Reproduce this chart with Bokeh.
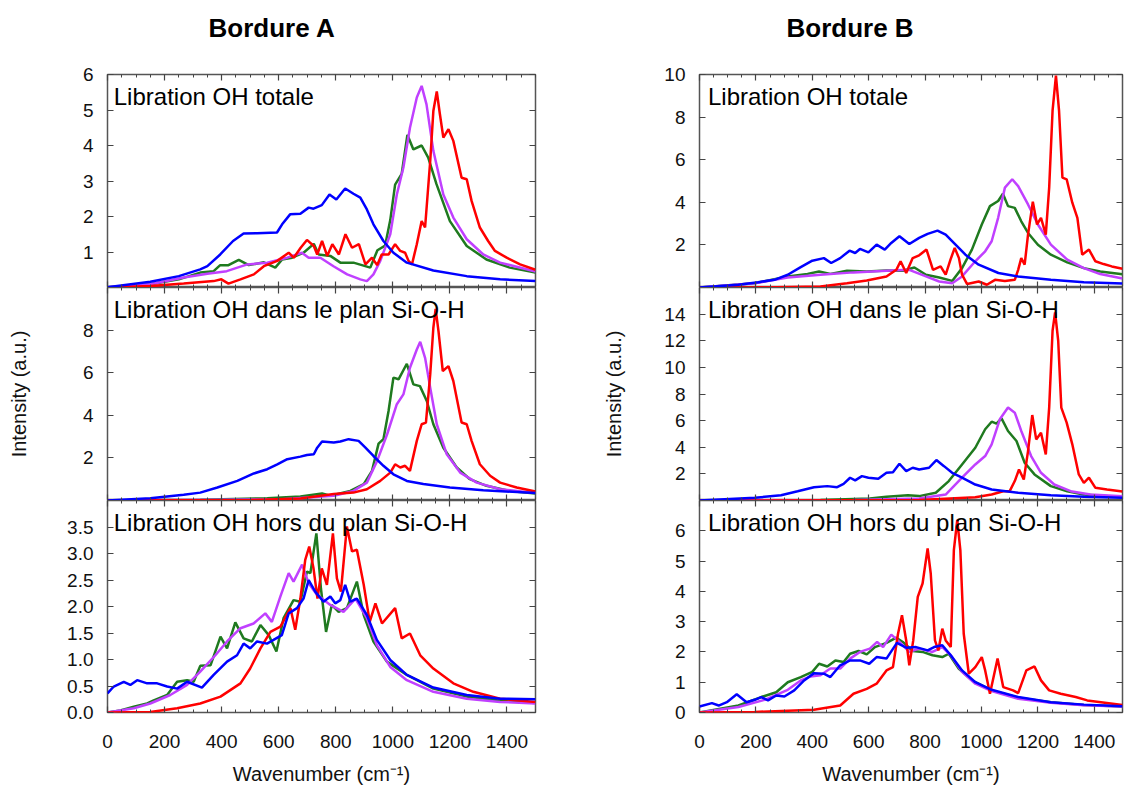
from bokeh.plotting import figure
from bokeh.layouts import row, column
from bokeh.models import Range1d, LinearAxis, FixedTicker, Label, PrintfTickFormatter
from bokeh.embed import file_html
from bokeh.resources import INLINE

# ---------------- texts / ticks ----------------
column_titles = ["Bordure A", "Bordure B"]
panel_labels = ["Libration OH totale",
                "Libration OH dans le plan Si-O-H",
                "Libration OH hors du plan Si-O-H"]
x_label = "Wavenumber (cm\u207b\u00b9)"
y_label = "Intensity (a.u.)"
x_ticks = [0, 200, 400, 600, 800, 1000, 1200, 1400]
x_minor_ticks = [0, 50, 100, 150, 200, 250, 300, 350, 400, 450, 500, 550, 600, 650, 700,
                 750, 800, 850, 900, 950, 1000, 1050, 1100, 1150, 1200, 1250, 1300, 1350,
                 1400, 1450, 1500]

a_tot_yticks = [1, 2, 3, 4, 5, 6]
a_plan_yticks = [2, 4, 6, 8]
a_hors_yticks = [0.0, 0.5, 1.0, 1.5, 2.0, 2.5, 3.0, 3.5]
b_tot_yticks = [2, 4, 6, 8, 10]
b_plan_yticks = [2, 4, 6, 8, 10, 12, 14]
b_hors_yticks = [0, 1, 2, 3, 4, 5, 6]
y_tops = [[6, 10, 4], [10, 16, 7]]

# ---------------- Bordure A : Libration OH totale ----------------
a_tot_blue_x = [0, 150, 250, 325, 350, 395, 440, 477, 524, 594, 612, 640, 676, 705, 722, 751, 778, 802, 833, 862, 886, 909, 932, 967, 1002, 1049, 1142, 1259, 1376, 1500]
a_tot_blue_y = [0.01, 0.16, 0.32, 0.51, 0.6, 0.93, 1.31, 1.52, 1.53, 1.55, 1.78, 2.06, 2.08, 2.25, 2.22, 2.32, 2.62, 2.48, 2.79, 2.64, 2.53, 2.2, 1.78, 1.31, 0.98, 0.7, 0.48, 0.32, 0.23, 0.18]
a_tot_green_x = [0, 150, 250, 325, 372, 395, 424, 460, 495, 548, 588, 612, 647, 687, 723, 740, 781, 816, 862, 921, 946, 973, 991, 1008, 1031, 1051, 1072, 1101, 1124, 1153, 1200, 1259, 1328, 1410, 1500]
a_tot_green_y = [0.01, 0.09, 0.23, 0.42, 0.46, 0.63, 0.63, 0.78, 0.63, 0.71, 0.56, 0.79, 0.84, 0.98, 1.23, 0.93, 0.89, 0.7, 0.7, 0.56, 1.05, 1.18, 1.9, 2.9, 3.2, 4.3, 3.89, 4.0, 3.66, 2.91, 1.87, 1.17, 0.79, 0.56, 0.42]
a_tot_magenta_x = [0, 150, 267, 350, 418, 490, 560, 630, 681, 705, 746, 792, 840, 886, 909, 932, 956, 991, 1014, 1037, 1060, 1084, 1101, 1118, 1142, 1177, 1212, 1259, 1317, 1376, 1500]
a_tot_magenta_y = [0.01, 0.09, 0.28, 0.39, 0.46, 0.65, 0.7, 0.84, 0.98, 0.84, 0.84, 0.6, 0.37, 0.23, 0.18, 0.37, 0.75, 1.5, 2.62, 3.38, 4.5, 5.35, 5.68, 5.16, 3.85, 2.62, 1.97, 1.36, 0.93, 0.7, 0.45]
a_tot_red_x = [0, 150, 267, 372, 399, 424, 466, 513, 548, 595, 635, 653, 677, 699, 723, 735, 752, 770, 788, 811, 834, 857, 881, 904, 927, 945, 961, 985, 1008, 1026, 1043, 1055, 1067, 1084, 1101, 1113, 1131, 1142, 1154, 1165, 1177, 1195, 1212, 1241, 1259, 1276, 1305, 1334, 1358, 1399, 1446, 1500]
a_tot_red_y = [0.0, 0.04, 0.11, 0.18, 0.23, 0.11, 0.23, 0.37, 0.6, 0.75, 0.98, 0.84, 1.12, 1.34, 1.17, 0.93, 1.31, 0.89, 1.22, 0.93, 1.5, 1.12, 1.22, 0.65, 0.84, 0.63, 0.93, 0.93, 1.22, 1.03, 0.98, 0.75, 0.65, 1.22, 1.87, 1.69, 3.56, 4.97, 5.52, 4.88, 4.22, 4.46, 4.13, 3.09, 3.05, 2.44, 1.69, 1.31, 1.03, 0.84, 0.65, 0.5]

# ---------------- Bordure A : dans le plan ----------------
a_plan_blue_x = [0, 150, 267, 325, 385, 455, 513, 560, 595, 630, 676, 699, 723, 735, 752, 793, 816, 845, 880, 904, 932, 967, 1002, 1049, 1107, 1200, 1317, 1500]
a_plan_blue_y = [0.0, 0.11, 0.27, 0.37, 0.61, 0.92, 1.27, 1.47, 1.7, 1.94, 2.06, 2.14, 2.17, 2.48, 2.77, 2.72, 2.77, 2.88, 2.8, 2.48, 2.09, 1.63, 1.23, 0.92, 0.77, 0.61, 0.48, 0.35]
a_plan_green_x = [0, 325, 560, 676, 752, 781, 851, 898, 927, 950, 967, 985, 1002, 1020, 1049, 1072, 1095, 1119, 1142, 1177, 1224, 1270, 1328, 1410, 1500]
a_plan_green_y = [0.0, 0.03, 0.11, 0.19, 0.33, 0.23, 0.45, 0.77, 1.39, 2.67, 2.88, 4.2, 5.77, 5.69, 6.42, 5.45, 5.37, 4.67, 3.58, 2.48, 1.55, 1.0, 0.69, 0.45, 0.33]
a_plan_magenta_x = [0, 600, 793, 862, 909, 945, 980, 1014, 1037, 1060, 1084, 1096, 1113, 1131, 1154, 1189, 1236, 1294, 1376, 1500]
a_plan_magenta_y = [0.0, 0.05, 0.22, 0.45, 0.84, 1.86, 3.11, 4.52, 4.98, 6.23, 7.09, 7.45, 6.7, 5.3, 3.58, 2.17, 1.31, 0.84, 0.53, 0.35]
a_plan_red_x = [0, 500, 676, 793, 862, 909, 956, 991, 1008, 1026, 1043, 1060, 1084, 1101, 1116, 1131, 1142, 1150, 1160, 1175, 1195, 1212, 1241, 1259, 1276, 1305, 1341, 1376, 1434, 1500]
a_plan_red_y = [0.0, 0.02, 0.09, 0.3, 0.37, 0.53, 0.92, 1.31, 1.7, 1.55, 1.63, 1.39, 2.8, 3.58, 3.66, 5.92, 8.11, 9.0, 7.95, 6.08, 6.31, 5.61, 3.66, 3.58, 2.8, 1.7, 1.16, 0.84, 0.61, 0.42]

# ---------------- Bordure A : hors du plan ----------------
a_hors_blue_x = [0, 22, 57, 80, 104, 139, 174, 209, 244, 279, 331, 372, 419, 454, 477, 500, 524, 559, 582, 611, 635, 664, 687, 705, 728, 757, 781, 798, 816, 833, 851, 874, 909, 944, 991, 1049, 1142, 1259, 1376, 1500]
a_hors_blue_y = [0.36, 0.49, 0.58, 0.52, 0.61, 0.55, 0.55, 0.49, 0.45, 0.58, 0.47, 0.71, 0.96, 1.08, 1.3, 1.21, 1.34, 1.3, 1.37, 1.46, 1.87, 1.97, 2.15, 2.5, 2.28, 2.09, 2.19, 2.06, 2.12, 2.41, 2.09, 2.15, 1.84, 1.37, 0.99, 0.71, 0.47, 0.33, 0.26, 0.25]
a_hors_green_x = [0, 45, 92, 139, 162, 209, 244, 279, 302, 325, 361, 396, 419, 448, 477, 506, 536, 565, 592, 617, 652, 676, 699, 711, 732, 748, 766, 786, 810, 839, 874, 898, 932, 979, 1049, 1142, 1259, 1376, 1500]
a_hors_green_y = [0.0, 0.04, 0.11, 0.17, 0.23, 0.33, 0.58, 0.61, 0.58, 0.88, 0.89, 1.43, 1.21, 1.7, 1.4, 1.34, 1.65, 1.46, 1.15, 1.78, 2.12, 2.09, 2.66, 2.63, 3.38, 2.34, 1.52, 2.03, 1.9, 1.97, 2.47, 1.84, 1.34, 0.96, 0.71, 0.45, 0.3, 0.22, 0.18]
a_hors_magenta_x = [0, 92, 150, 220, 279, 325, 378, 419, 466, 512, 553, 576, 606, 635, 652, 682, 705, 734, 781, 827, 869, 909, 944, 991, 1049, 1142, 1259, 1376, 1500]
a_hors_magenta_y = [0.0, 0.08, 0.17, 0.33, 0.52, 0.77, 1.08, 1.34, 1.59, 1.68, 1.87, 1.71, 2.19, 2.63, 2.47, 2.79, 2.44, 2.22, 2.03, 1.9, 2.15, 1.78, 1.27, 0.86, 0.61, 0.39, 0.26, 0.2, 0.17]
a_hors_red_x = [0, 150, 244, 325, 396, 466, 500, 536, 571, 606, 641, 658, 676, 693, 707, 722, 736, 751, 769, 790, 804, 818, 839, 857, 874, 898, 919, 939, 962, 1008, 1031, 1060, 1096, 1142, 1212, 1282, 1376, 1500]
a_hors_red_y = [0.0, 0.01, 0.08, 0.17, 0.3, 0.55, 0.83, 1.21, 1.52, 1.62, 1.97, 1.56, 2.15, 2.88, 3.13, 2.72, 2.15, 2.72, 2.41, 3.38, 2.53, 2.28, 3.51, 3.04, 3.07, 2.41, 1.71, 2.06, 1.68, 1.97, 1.4, 1.49, 1.08, 0.83, 0.55, 0.39, 0.26, 0.2]

# ---------------- Bordure B : Libration OH totale ----------------
b_tot_blue_x = [0, 138, 208, 266, 313, 359, 400, 441, 467, 499, 532, 552, 569, 599, 628, 657, 680, 709, 744, 779, 809, 844, 873, 908, 943, 990, 1060, 1130, 1246, 1363, 1500]
b_tot_blue_y = [0.0, 0.13, 0.25, 0.36, 0.6, 0.96, 1.26, 1.38, 1.15, 1.38, 1.73, 1.62, 1.81, 1.65, 2.01, 1.78, 2.09, 2.41, 2.04, 2.33, 2.52, 2.67, 2.48, 2.01, 1.54, 1.07, 0.68, 0.52, 0.36, 0.25, 0.19]
b_tot_green_x = [0, 196, 313, 383, 424, 464, 523, 593, 663, 721, 762, 803, 850, 896, 931, 966, 1001, 1030, 1059, 1076, 1094, 1118, 1141, 1165, 1200, 1246, 1304, 1363, 1421, 1500]
b_tot_green_y = [0.0, 0.2, 0.52, 0.64, 0.75, 0.64, 0.79, 0.75, 0.8, 0.79, 0.94, 0.6, 0.47, 0.31, 0.91, 1.78, 2.96, 3.82, 4.06, 4.4, 3.82, 3.74, 3.11, 2.56, 2.01, 1.54, 1.18, 0.91, 0.75, 0.62]
b_tot_magenta_x = [0, 196, 313, 429, 546, 663, 744, 803, 850, 896, 931, 978, 1013, 1036, 1059, 1083, 1109, 1130, 1165, 1200, 1246, 1304, 1363, 1421, 1500]
b_tot_magenta_y = [0.0, 0.2, 0.47, 0.6, 0.71, 0.79, 0.83, 0.52, 0.28, 0.2, 0.52, 1.23, 1.7, 2.17, 3.27, 4.69, 5.08, 4.76, 3.9, 2.96, 2.01, 1.31, 0.91, 0.63, 0.42]
b_tot_red_x = [0, 196, 429, 523, 593, 663, 698, 713, 733, 756, 779, 805, 828, 855, 873, 890, 905, 920, 931, 949, 990, 1019, 1048, 1083, 1118, 1130, 1141, 1153, 1165, 1182, 1197, 1211, 1228, 1240, 1252, 1264, 1275, 1287, 1302, 1322, 1340, 1357, 1381, 1404, 1433, 1462, 1500]
b_tot_red_y = [0.0, 0.0, 0.05, 0.2, 0.33, 0.52, 0.83, 1.23, 0.68, 1.38, 1.51, 1.78, 0.83, 0.99, 0.6, 1.31, 1.86, 1.38, 0.6, 0.16, 0.28, 0.13, 0.36, 0.31, 0.36, 0.83, 1.38, 1.07, 2.48, 4.03, 2.96, 3.27, 2.48, 4.69, 8.3, 9.95, 8.3, 5.16, 5.08, 3.98, 3.27, 1.54, 1.78, 1.23, 1.1, 0.99, 0.88]

# ---------------- Bordure B : dans le plan ----------------
b_plan_blue_x = [0, 196, 289, 348, 406, 453, 488, 511, 534, 552, 576, 599, 634, 663, 686, 709, 733, 756, 779, 814, 840, 867, 896, 931, 978, 1036, 1130, 1246, 1363, 1500]
b_plan_blue_y = [0.0, 0.2, 0.4, 0.7, 1.0, 1.08, 1.0, 1.25, 1.71, 1.51, 1.83, 1.71, 1.63, 2.08, 2.13, 2.76, 2.21, 2.46, 2.33, 2.46, 3.04, 2.58, 2.08, 1.71, 1.2, 0.83, 0.58, 0.4, 0.28, 0.2]
b_plan_green_x = [0, 429, 604, 663, 739, 779, 838, 884, 931, 978, 1013, 1036, 1053, 1071, 1094, 1124, 1153, 1188, 1246, 1304, 1363, 1500]
b_plan_green_y = [0.0, 0.03, 0.15, 0.28, 0.4, 0.33, 0.58, 1.46, 2.71, 3.96, 5.35, 5.92, 5.77, 6.17, 5.22, 4.47, 2.84, 1.96, 1.08, 0.7, 0.45, 0.24]
b_plan_magenta_x = [0, 546, 779, 873, 931, 978, 1013, 1036, 1065, 1094, 1118, 1141, 1176, 1211, 1258, 1316, 1386, 1500]
b_plan_magenta_y = [0.0, 0.03, 0.15, 0.45, 1.71, 2.71, 3.34, 4.22, 6.1, 6.98, 6.6, 5.22, 3.34, 2.08, 1.2, 0.7, 0.45, 0.32]
b_plan_red_x = [0, 779, 978, 1036, 1077, 1100, 1118, 1133, 1150, 1165, 1180, 1194, 1211, 1228, 1240, 1252, 1261, 1272, 1283, 1302, 1322, 1345, 1363, 1381, 1404, 1445, 1500]
b_plan_red_y = [0.0, 0.03, 0.25, 0.45, 0.7, 0.7, 1.46, 2.33, 1.58, 3.71, 6.42, 4.59, 5.09, 3.46, 6.98, 12.75, 14.13, 12.0, 6.98, 5.85, 4.22, 1.96, 1.33, 1.71, 0.95, 0.83, 0.68]

# ---------------- Bordure B : hors du plan ----------------
b_hors_blue_x = [0, 44, 68, 97, 132, 167, 196, 219, 243, 272, 301, 336, 371, 406, 441, 464, 499, 534, 569, 602, 628, 663, 700, 733, 768, 809, 832, 861, 891, 931, 978, 1036, 1130, 1246, 1363, 1500]
b_hors_blue_y = [0.2, 0.31, 0.23, 0.34, 0.6, 0.34, 0.42, 0.51, 0.4, 0.56, 0.53, 0.73, 1.06, 1.3, 1.28, 1.17, 1.56, 1.72, 1.72, 1.61, 1.83, 1.78, 2.3, 2.14, 2.16, 2.05, 2.16, 2.22, 1.89, 1.39, 1.0, 0.75, 0.51, 0.34, 0.26, 0.21]
b_hors_green_x = [0, 138, 219, 272, 313, 359, 400, 424, 453, 482, 511, 534, 564, 593, 622, 663, 698, 721, 756, 791, 826, 861, 884, 919, 966, 1036, 1130, 1246, 1363, 1500]
b_hors_green_y = [0.0, 0.23, 0.51, 0.67, 1.0, 1.17, 1.34, 1.61, 1.52, 1.72, 1.67, 1.94, 2.03, 1.92, 2.16, 2.3, 2.47, 2.33, 2.03, 2.0, 1.89, 1.83, 1.94, 1.45, 1.06, 0.73, 0.49, 0.34, 0.25, 0.2]
b_hors_magenta_x = [0, 138, 231, 313, 359, 394, 429, 464, 499, 534, 569, 604, 630, 651, 680, 709, 744, 779, 826, 861, 891, 931, 978, 1036, 1130, 1246, 1363, 1500]
b_hors_magenta_y = [0.0, 0.18, 0.42, 0.75, 1.06, 1.19, 1.23, 1.45, 1.45, 1.78, 2.0, 2.11, 2.33, 2.16, 2.57, 2.33, 2.0, 2.11, 2.0, 2.16, 1.89, 1.34, 0.95, 0.71, 0.45, 0.32, 0.24, 0.2]
b_hors_red_x = [0, 196, 406, 499, 546, 593, 628, 663, 686, 704, 718, 733, 744, 758, 774, 791, 809, 820, 835, 847, 861, 873, 891, 902, 914, 925, 937, 955, 978, 1001, 1013, 1030, 1057, 1077, 1112, 1130, 1159, 1188, 1211, 1240, 1281, 1334, 1375, 1500]
b_hors_red_y = [0.0, 0.02, 0.09, 0.23, 0.62, 0.78, 0.95, 1.39, 1.5, 2.6, 3.21, 2.38, 1.56, 2.38, 3.82, 4.26, 5.42, 4.59, 2.38, 2.05, 2.77, 2.38, 2.16, 5.36, 6.36, 5.36, 2.6, 1.28, 1.5, 1.83, 1.39, 0.62, 1.78, 0.84, 0.73, 0.64, 1.39, 1.52, 1.06, 0.73, 0.62, 0.51, 0.4, 0.25]

# ---------------- panel registry ----------------
series_colors = ["#1f7a1f", "#c040ff", "#ff0000", "#0000ff"]  # green, magenta, red, blue
panels = [
    [  # Bordure A
        (a_tot_yticks, [(a_tot_green_x, a_tot_green_y), (a_tot_magenta_x, a_tot_magenta_y), (a_tot_red_x, a_tot_red_y), (a_tot_blue_x, a_tot_blue_y)]),
        (a_plan_yticks, [(a_plan_green_x, a_plan_green_y), (a_plan_magenta_x, a_plan_magenta_y), (a_plan_red_x, a_plan_red_y), (a_plan_blue_x, a_plan_blue_y)]),
        (a_hors_yticks, [(a_hors_green_x, a_hors_green_y), (a_hors_magenta_x, a_hors_magenta_y), (a_hors_red_x, a_hors_red_y), (a_hors_blue_x, a_hors_blue_y)]),
    ],
    [  # Bordure B
        (b_tot_yticks, [(b_tot_green_x, b_tot_green_y), (b_tot_magenta_x, b_tot_magenta_y), (b_tot_red_x, b_tot_red_y), (b_tot_blue_x, b_tot_blue_y)]),
        (b_plan_yticks, [(b_plan_green_x, b_plan_green_y), (b_plan_magenta_x, b_plan_magenta_y), (b_plan_red_x, b_plan_red_y), (b_plan_blue_x, b_plan_blue_y)]),
        (b_hors_yticks, [(b_hors_green_x, b_hors_green_y), (b_hors_magenta_x, b_hors_magenta_y), (b_hors_red_x, b_hors_red_y), (b_hors_blue_x, b_hors_blue_y)]),
    ],
]

FONT = "Liberation Sans"
FRAME_COLOR = "#555555"
TICK_COLOR = "#444444"


def style_axis(ax, ticks, show_labels, standoff=14):
    ax.axis_line_color = None
    ax.major_tick_in = 6
    ax.major_tick_out = 0
    ax.minor_tick_in = 3
    ax.minor_tick_out = 0
    ax.major_tick_line_color = TICK_COLOR
    ax.minor_tick_line_color = TICK_COLOR
    ax.major_tick_line_width = 1.2
    ax.minor_tick_line_width = 1.0
    if show_labels:
        ax.major_label_text_font = FONT
        ax.major_label_text_font_size = "19px"
        ax.major_label_text_color = "#111111"
        ax.major_label_standoff = standoff
    else:
        ax.major_label_text_font_size = "0px"
        ax.major_label_standoff = 0
        ax.major_label_overrides = {t: "" for t in ticks}


def make_panel(ci, ri):
    yticks, curves = panels[ci][ri]
    ytop = y_tops[ci][ri]
    is_top = ri == 0
    is_bottom = ri == 2
    left_border = 107 if ci == 0 else 101
    width = 598 if ci == 0 else 526
    right_border = 63 if ci == 0 else 2
    top_border = 74 if is_top else 0
    bottom_border = 80 if is_bottom else 0
    frame_h = 212 if is_bottom else 213
    height = top_border + frame_h + bottom_border

    p = figure(width=width, height=height, output_backend="svg", toolbar_location=None,
               x_range=Range1d(0, 1500), y_range=Range1d(0, ytop),
               x_axis_type=None, y_axis_type=None,
               min_border_left=left_border, min_border_right=right_border,
               min_border_top=top_border, min_border_bottom=bottom_border,
               outline_line_color=FRAME_COLOR, outline_line_width=1.5,
               background_fill_color="white", border_fill_color="white")

    xt = FixedTicker(ticks=x_ticks, minor_ticks=x_minor_ticks)
    yt = FixedTicker(ticks=yticks, minor_ticks=[])

    bottom = LinearAxis(ticker=xt)
    style_axis(bottom, x_ticks, is_bottom, standoff=22)
    if is_bottom:
        bottom.axis_label = x_label
        bottom.axis_label_text_font = FONT
        bottom.axis_label_text_font_size = "20px"
        bottom.axis_label_text_font_style = "normal"
        bottom.axis_label_text_color = "#111111"
        bottom.axis_label_standoff = 12
    p.add_layout(bottom, "below")

    top = LinearAxis(ticker=FixedTicker(ticks=x_ticks, minor_ticks=x_minor_ticks))
    style_axis(top, x_ticks, False)
    if is_top:
        top.axis_label = " "
        top.axis_label_text_font_size = "2px"
        top.axis_label_standoff = 22
    p.add_layout(top, "above")

    left = LinearAxis(ticker=yt)
    style_axis(left, yticks, True, standoff=14)
    if ci == 0 and ri == 2:
        left.formatter = PrintfTickFormatter(format="%.1f")
    if ri == 1:
        left.axis_label = y_label
        left.axis_label_text_font = FONT
        left.axis_label_text_font_size = "20px"
        left.axis_label_text_font_style = "normal"
        left.axis_label_text_color = "#111111"
        left.axis_label_standoff = 50 if ci == 0 else 36
    p.add_layout(left, "left")

    right = LinearAxis(ticker=FixedTicker(ticks=yticks, minor_ticks=[]))
    style_axis(right, yticks, False)
    p.add_layout(right, "right")

    for (xs, ys), color in zip(curves, series_colors):
        p.line(xs, ys, line_color=color, line_width=2.5)

    p.add_layout(Label(x=22 if ci == 0 else 30, y=ytop, text=panel_labels[ri],
                       text_font=FONT, text_font_size="24px", text_color="#000000",
                       text_baseline="top", text_align="left", y_offset=-8))

    if is_top:
        p.title.text = column_titles[ci]
        p.title.text_font = FONT
        p.title.text_font_size = "26px"
        p.title.text_font_style = "bold"
        p.title.text_color = "#000000"
        p.title.align = "left"
        p.title.offset = 101 if ci == 0 else 87
        p.title.standoff = 10
    return p


cols = []
for ci in range(2):
    cols.append(column(*[make_panel(ci, ri) for ri in range(3)]))
layout = row(*cols)

open("out.html", "w").write(file_html(layout, INLINE))
